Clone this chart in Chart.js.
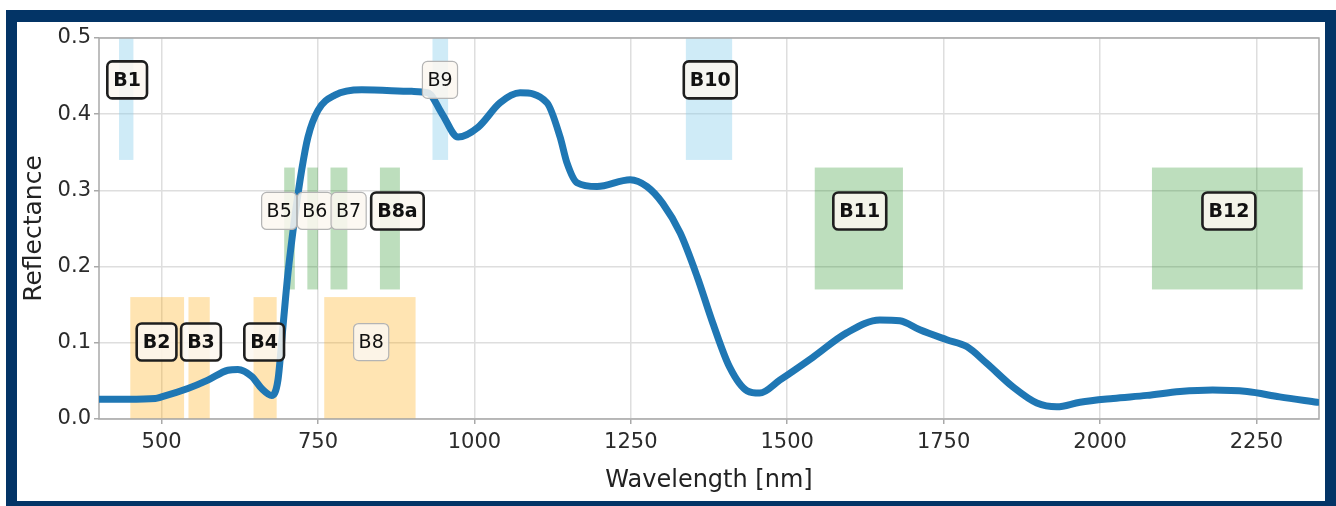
<!DOCTYPE html>
<html><head><meta charset="utf-8">
<script src="https://cdn.jsdelivr.net/npm/chart.js@4"></script>
<style>html,body{margin:0;padding:0;background:#fff;}canvas{display:block}</style>
</head><body>
<canvas id="c" width="1336" height="506"></canvas>
<script>
// ---- DATA ----
const wavelengths = [400,446,490,500,542,574,606,622,644,660,676,686,694,702,713,724,734,750,777,820,900,926,948,974,1006,1041,1073,1116,1137,1148,1164,1196,1249,1276,1301,1329,1356,1381,1408,1436,1456,1488,1541,1595,1648,1680,1712,1755,1787,1819,1861,1899,1931,1968,2021,2075,2128,2180,2235,2287,2347];
const reflectance = [0.026,0.026,0.027,0.029,0.040,0.051,0.064,0.065,0.056,0.040,0.031,0.051,0.121,0.191,0.265,0.327,0.370,0.405,0.425,0.432,0.430,0.428,0.401,0.370,0.383,0.415,0.428,0.415,0.370,0.336,0.310,0.305,0.314,0.305,0.283,0.244,0.187,0.126,0.068,0.037,0.034,0.051,0.081,0.113,0.130,0.129,0.117,0.104,0.095,0.073,0.042,0.021,0.016,0.022,0.027,0.031,0.036,0.038,0.036,0.029,0.022];
const xTicks = [500,750,1000,1250,1500,1750,2000,2250];
const yTicks = [0.0,0.1,0.2,0.3,0.4,0.5];
const bandNames = ['B1','B2','B3','B4','B5','B6','B7','B8','B8a','B9','B10','B11','B12'];
const bandStart = [432,450,543,647,696,733,770,760,849,933,1338,1544,2083];
const bandEnd   = [455,536,577,684,713,750,797,906,881,958,1412,1685,2324];
const bandLow   = [0.34,0,0,0,0.17,0.17,0.17,0,0.17,0.34,0.34,0.17,0.17];
const bandHigh  = [0.5,0.16,0.16,0.16,0.33,0.33,0.33,0.16,0.33,0.5,0.5,0.33,0.33];
const bandRes   = ['60m','10m','10m','10m','20m','20m','20m','10m','20m','60m','60m','20m','20m'];
const labelX    = [445,492,563,664,688,745,799,835,877,945,1377,1616,2206];
const labelY    = [0.445,0.101,0.101,0.101,0.273,0.273,0.273,0.101,0.273,0.445,0.445,0.273,0.273];

// ---- STYLE ----
const FONT = 'DejaVu Sans';
const FRAME = '#033466';
const bandColor = {'10m':'rgba(255,165,0,0.30)','20m':'rgba(0,128,0,0.26)','60m':'rgba(135,206,235,0.40)'};
const boldBands = new Set(['B1','B2','B3','B4','B8a','B10','B11','B12']);

const deco = {
  id:'deco',
  beforeDraw(chart){
    const {ctx,width,height} = chart;
    ctx.save();
    ctx.fillStyle = '#fff'; ctx.fillRect(0,0,width,height);
    ctx.fillStyle = FRAME; ctx.fillRect(6,10,width-6,height-10);
    ctx.fillStyle = '#fff'; ctx.fillRect(17,22,1308,479);
    ctx.restore();
  },
  beforeDatasetsDraw(chart){
    const {ctx,chartArea:a,scales:{x,y}} = chart;
    ctx.save();
    for (let i=0;i<bandNames.length;i++){
      const x0=x.getPixelForValue(bandStart[i]), x1=x.getPixelForValue(bandEnd[i]);
      const y0=y.getPixelForValue(bandHigh[i]), y1=y.getPixelForValue(bandLow[i]);
      ctx.fillStyle = bandColor[bandRes[i]];
      ctx.fillRect(x0,y0,x1-x0,y1-y0);
    }
    ctx.strokeStyle = '#a9a9a9'; ctx.lineWidth = 1.5;
    ctx.strokeRect(a.left,a.top,a.right-a.left,a.bottom-a.top);
    ctx.restore();
  },
  afterDatasetsDraw(chart){
    const {ctx,scales:{x,y}} = chart;
    ctx.save();
    ctx.textAlign='center'; ctx.textBaseline='middle';
    for (let i=0;i<bandNames.length;i++){
      const bold = boldBands.has(bandNames[i]);
      ctx.font = (bold?'bold ':'')+'19px "'+FONT+'"';
      const tw = ctx.measureText(bandNames[i]).width;
      const pad = bold?6:5;
      const w = tw+2*pad, h = 37;
      const cx = x.getPixelForValue(labelX[i]), cy = y.getPixelForValue(labelY[i]);
      ctx.beginPath();
      ctx.roundRect(cx-w/2, cy-h/2, w, h, 5);
      ctx.fillStyle = 'rgba(251,247,240,0.86)';
      ctx.fill();
      ctx.lineWidth = bold?2.6:1.2;
      ctx.strokeStyle = bold?'#1e1e1e':'#b4b4b4';
      ctx.stroke();
      ctx.fillStyle = '#111';
      ctx.fillText(bandNames[i], cx, cy+1);
    }
    ctx.restore();
  }
};

new Chart(document.getElementById('c'), {
  type:'line',
  data:{datasets:[{
    data: wavelengths.map((w,i)=>({x:w,y:reflectance[i]})),
    borderColor:'#1f77b4', borderWidth:7, pointRadius:0,
    cubicInterpolationMode:'monotone', borderCapStyle:'round', borderJoinStyle:'round', fill:false
  }]},
  options:{
    responsive:false, animation:false, devicePixelRatio:1,
    layout:{padding:{left:17,top:38,right:17,bottom:5}},
    plugins:{legend:{display:false},tooltip:{enabled:false}},
    scales:{
      x:{type:'linear',min:400,max:2350,
        afterBuildTicks:s=>{s.ticks = xTicks.map(v=>({value:v}));},
        afterFit:s=>{s.height=82;},
        border:{display:false},
        grid:{color:'#dedede',lineWidth:1.5,tickLength:5,tickColor:'#a9a9a9'},
        ticks:{font:{family:FONT,size:21},color:'#2b2b2b',padding:6,maxRotation:0,callback:v=>String(v)},
        title:{display:true,text:'Wavelength [nm]',font:{family:FONT,size:24},color:'#222',padding:{top:0,bottom:6}}
      },
      y:{type:'linear',min:0,max:0.5,
        afterBuildTicks:s=>{s.ticks = yTicks.map(v=>({value:v}));},
        afterFit:s=>{s.width=82;},
        border:{display:false},
        grid:{color:'#dedede',lineWidth:1.5,tickLength:5,tickColor:'#a9a9a9'},
        ticks:{font:{family:FONT,size:21},color:'#2b2b2b',padding:3,callback:v=>v.toFixed(1)},
        title:{display:true,text:'Reflectance',font:{family:FONT,size:25},color:'#222',padding:{top:2,bottom:0}}
      }
    }
  },
  plugins:[deco]
});
</script>
</body></html>
